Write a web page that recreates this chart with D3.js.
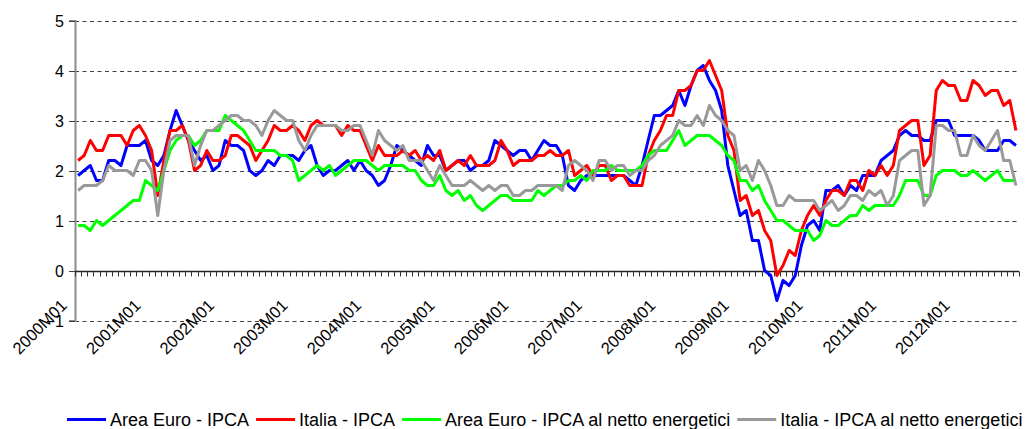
<!DOCTYPE html>
<html>
<head>
<meta charset="utf-8">
<script src="https://cdn.jsdelivr.net/npm/d3@7/dist/d3.min.js"></script>
<style>
  html, body { margin: 0; padding: 0; background: #fff; }
  svg { display: block; font-family: "Liberation Sans", Arial, sans-serif; }
</style>
</head>
<body>
<svg id="chart" width="1027" height="429"></svg>
<script>
// Tassi tendenziali mensili, 2000M01 - 2012M10
const years = [2000, 2001, 2002, 2003, 2004, 2005, 2006, 2007, 2008, 2009, 2010, 2011, 2012];

const areaEuroIpca = [
  1.9, 2.0, 2.1, 1.8, 1.8, 2.2, 2.2, 2.1, 2.5, 2.5, 2.5, 2.6,
  2.2, 2.1, 2.3, 2.8, 3.2, 2.9, 2.6, 2.4, 2.2, 2.3, 2.0, 2.1,
  2.6, 2.5, 2.5, 2.4, 2.0, 1.9, 2.0, 2.2, 2.1, 2.3, 2.3, 2.3,
  2.2, 2.4, 2.5, 2.1, 1.9, 2.0, 2.0, 2.1, 2.2, 2.0, 2.2, 2.0,
  1.9, 1.7, 1.8, 2.1, 2.5, 2.4, 2.3, 2.2, 2.1, 2.5, 2.3, 2.3,
  2.0, 2.1, 2.2, 2.2, 2.0, 2.1, 2.1, 2.2, 2.6, 2.5, 2.4, 2.3,
  2.4, 2.4, 2.2, 2.4, 2.6, 2.5, 2.5, 2.3, 1.7, 1.6, 1.8, 1.9,
  1.9, 1.9, 1.9, 1.9, 1.9, 1.9, 1.8, 1.7, 2.1, 2.6, 3.1, 3.1,
  3.2, 3.3, 3.6, 3.3, 3.7, 4.0, 4.1, 3.8, 3.6, 3.2, 2.1, 1.6,
  1.1, 1.2, 0.6, 0.6, 0.0, -0.1, -0.6, -0.2, -0.3, -0.1, 0.5, 0.9,
  1.0, 0.8, 1.6, 1.6, 1.7, 1.5, 1.7, 1.6, 1.9, 1.9, 1.9, 2.2,
  2.3, 2.4, 2.7, 2.8, 2.7, 2.7, 2.6, 2.6, 3.0, 3.0, 3.0, 2.7,
  2.7, 2.7, 2.7, 2.6, 2.4, 2.4, 2.4, 2.6, 2.6, 2.5
];

const italiaIpca = [
  2.2, 2.3, 2.6, 2.4, 2.4, 2.7, 2.7, 2.7, 2.5, 2.8, 2.9, 2.7,
  2.4, 1.5, 2.2, 2.8, 2.8, 2.9, 2.6, 2.0, 2.1, 2.4, 2.2, 2.2,
  2.3, 2.7, 2.7, 2.6, 2.5, 2.2, 2.4, 2.6, 2.9, 2.8, 2.8, 2.9,
  2.8, 2.6, 2.9, 3.0, 2.9, 2.9, 2.9, 2.7, 2.9, 2.8, 2.8, 2.5,
  2.2, 2.5, 2.3, 2.3, 2.3, 2.4, 2.3, 2.4, 2.2, 2.3, 2.2, 2.4,
  2.0, 2.1, 2.2, 2.1, 2.3, 2.1, 2.1, 2.1, 2.2, 2.6, 2.4, 2.1,
  2.2, 2.2, 2.2, 2.3, 2.3, 2.4, 2.3, 2.3, 2.4, 1.9, 2.0, 2.1,
  1.9, 2.1, 2.1, 1.8, 1.9, 1.9, 1.7, 1.7, 1.7, 2.3, 2.6, 2.8,
  3.1, 3.1, 3.6, 3.6, 3.7, 4.0, 4.0, 4.2, 3.9, 3.6, 2.7, 2.4,
  1.4, 1.5, 1.1, 1.2, 0.8, 0.6, -0.1, 0.1, 0.4, 0.3, 0.8, 1.1,
  1.3, 1.1, 1.4, 1.6, 1.6, 1.5, 1.8, 1.8, 1.6, 2.0, 1.9, 2.1,
  1.9, 2.1, 2.8, 2.9, 3.0, 3.0, 2.1, 2.3, 3.6, 3.8, 3.7, 3.7,
  3.4, 3.4, 3.8, 3.7, 3.5, 3.6, 3.6, 3.3, 3.4, 2.8
];

const areaEuroNettoEnergetici = [
  0.9, 0.9, 0.8, 1.0, 0.9, 1.0, 1.1, 1.2, 1.3, 1.4, 1.4, 1.8,
  1.7, 1.6, 2.0, 2.4, 2.6, 2.7, 2.7, 2.5, 2.6, 2.8, 2.8, 2.8,
  3.1, 3.0, 2.9, 2.8, 2.6, 2.4, 2.4, 2.4, 2.4, 2.3, 2.3, 2.2,
  1.8, 1.9, 2.0, 2.1, 2.0, 2.1, 1.9, 2.0, 2.1, 2.2, 2.2, 2.2,
  2.1, 2.0, 2.1, 2.1, 2.1, 2.1, 2.0, 2.0, 1.8, 1.7, 1.7, 1.9,
  1.6, 1.5, 1.6, 1.4, 1.5, 1.3, 1.2, 1.3, 1.4, 1.5, 1.5, 1.4,
  1.4, 1.4, 1.4, 1.6, 1.5, 1.6, 1.7, 1.7, 1.8, 1.8, 1.9, 1.8,
  2.0, 2.0, 2.0, 2.1, 2.0, 2.0, 2.0, 2.0, 2.1, 2.3, 2.4, 2.4,
  2.4, 2.6, 2.8, 2.5, 2.6, 2.7, 2.7, 2.7, 2.6, 2.5, 2.3, 2.2,
  1.8, 1.8, 1.6, 1.7, 1.4, 1.2, 1.0, 1.0, 0.9, 0.8, 0.8, 0.8,
  0.6, 0.7, 1.0, 0.9, 0.9, 1.0, 1.1, 1.1, 1.3, 1.2, 1.3, 1.3,
  1.3, 1.3, 1.5, 1.8, 1.8, 1.8, 1.5, 1.5, 1.9, 2.0, 2.0, 2.0,
  1.9, 1.9, 2.0, 1.9, 1.8, 1.9, 2.0, 1.8, 1.8, 1.8
];

const italiaNettoEnergetici = [
  1.6, 1.7, 1.7, 1.7, 1.8, 2.1, 2.0, 2.0, 2.0, 1.9, 2.2, 2.2,
  2.0, 1.1, 2.0, 2.6, 2.7, 2.7, 2.7, 2.1, 2.5, 2.8, 2.8, 2.9,
  3.0, 3.1, 3.1, 3.0, 3.0, 2.9, 2.7, 3.0, 3.2, 3.1, 3.0, 3.0,
  2.6, 2.4, 2.7, 2.9, 2.9, 2.9, 2.9, 2.8, 2.8, 2.9, 2.9, 2.6,
  2.3, 2.8, 2.6, 2.5, 2.4, 2.5, 2.2, 2.2, 2.2, 2.0, 1.8, 2.1,
  1.9, 1.7, 1.7, 1.7, 1.8, 1.7, 1.6, 1.7, 1.6, 1.7, 1.7, 1.5,
  1.5, 1.6, 1.6, 1.7, 1.7, 1.7, 1.7, 1.6, 2.1, 2.2, 2.1, 2.0,
  1.8, 2.2, 2.2, 2.0, 2.1, 2.1, 1.9, 2.0, 2.0, 2.2, 2.3, 2.5,
  2.6, 2.7, 3.0, 2.9, 2.9, 3.1, 2.9, 3.3, 3.1, 3.0, 2.8, 2.7,
  2.0, 2.1, 1.8, 2.2, 2.0, 1.7, 1.3, 1.3, 1.5, 1.4, 1.4, 1.4,
  1.4, 1.2, 1.3, 1.4, 1.2, 1.3, 1.5, 1.5, 1.4, 1.6, 1.5, 1.6,
  1.3, 1.5, 2.2, 2.3, 2.4, 2.4, 1.3, 1.5, 2.9, 2.9, 2.8, 2.8,
  2.3, 2.3, 2.7, 2.5, 2.4, 2.6, 2.8, 2.2, 2.2, 1.7
];

const seriesNames = [
  'Area Euro - IPCA',
  'Italia - IPCA',
  'Area Euro - IPCA al netto energetici',
  'Italia - IPCA al netto energetici'
];
const yTicks = [-1, 0, 1, 2, 3, 4, 5];
const yearTickLabels = years.map(y => `${y}M01`);

// categorie mensili (2000M01 ...), una per osservazione
const months = [];
years.forEach(y => {
  for (let m = 1; m <= 12; m++) {
    months.push(`${y}M${m < 10 ? '0' + m : m}`);
  }
});
const categories = months.slice(0, areaEuroIpca.length);

const seriesValues = [areaEuroIpca, italiaIpca, areaEuroNettoEnergetici, italiaNettoEnergetici];
const colors = ['#0000ff', '#ff0000', '#00ff00', '#999999'];

const plot = { left: 75, right: 1019, top: 20.5, bottom: 320.5 };

const svg = d3.select('#chart');

const x = d3.scaleBand()
  .domain(categories)
  .range([plot.left, plot.right])
  .padding(0);
const y = d3.scaleLinear()
  .domain([-1, 5])
  .range([plot.bottom, plot.top]);

const cx = d => x(d) + x.bandwidth() / 2;

// griglia tratteggiata (tutti i valori tranne lo zero, che e' l'asse)
const gGrid = svg.append('g');
gGrid.selectAll('line')
  .data(yTicks.filter(v => v !== 0))
  .enter()
  .append('line')
  .attr('x1', plot.left)
  .attr('x2', plot.right)
  .attr('y1', d => Math.round(y(d)) + 0.5)
  .attr('y2', d => Math.round(y(d)) + 0.5)
  .attr('stroke', '#404040')
  .attr('stroke-width', 1)
  .attr('stroke-dasharray', '4,3.5');

// asse Y
const yAxis = d3.axisLeft(y).tickValues(yTicks).tickSize(6).tickPadding(5).tickFormat(d3.format('d'));
const gY = svg.append('g')
  .attr('transform', `translate(${plot.left},0)`)
  .call(yAxis);
gY.select('.domain').attr('stroke', '#8c8c8c').attr('stroke-width', 2);
gY.selectAll('.tick line').attr('stroke', '#404040');
gY.selectAll('.tick text')
  .attr('font-size', 16)
  .attr('font-family', '"Liberation Sans", Arial, sans-serif')
  .attr('fill', '#000');
gY.selectAll('.tick').attr('transform', d => `translate(0,${Math.round(y(d)) + 0.5})`);

// asse X sullo zero, con tacche tra le categorie
const y0 = Math.round(y(0)) + 0.5;
const gX = svg.append('g');
gX.append('line')
  .attr('x1', plot.left)
  .attr('x2', plot.right)
  .attr('y1', y0)
  .attr('y2', y0)
  .attr('stroke', '#222')
  .attr('stroke-width', 1.3);
const boundaries = categories.map(c => x(c)).concat([plot.right]);
gX.selectAll('line.tick')
  .data(boundaries)
  .enter()
  .append('line')
  .attr('class', 'tick')
  .attr('x1', d => Math.round(d) + 0.5)
  .attr('x2', d => Math.round(d) + 0.5)
  .attr('y1', y0)
  .attr('y2', y0 + 5)
  .attr('stroke', '#333')
  .attr('stroke-width', 1);

// etichette annuali ruotate di 45 gradi
gX.selectAll('text')
  .data(yearTickLabels)
  .enter()
  .append('text')
  .attr('transform', d => `translate(${cx(d) - 10},${y0 + 35}) rotate(-45)`)
  .attr('text-anchor', 'end')
  .attr('font-size', 16.5)
  .attr('fill', '#000')
  .text(d => d);

// serie
const line = d3.line()
  .x((d, i) => cx(categories[i]))
  .y(d => y(d));

const gLines = svg.append('g');
gLines.selectAll('path')
  .data(seriesValues)
  .enter()
  .append('path')
  .attr('fill', 'none')
  .attr('stroke', (d, i) => colors[i])
  .attr('stroke-width', 3)
  .attr('stroke-linejoin', 'round')
  .attr('d', d => line(d));

// legenda
const legendY = 419.5;
const gLegend = svg.append('g').attr('font-size', 18);
let lx = 67;
seriesNames.forEach((name, i) => {
  const item = gLegend.append('g');
  item.append('line')
    .attr('x1', lx)
    .attr('x2', lx + 39)
    .attr('y1', legendY)
    .attr('y2', legendY)
    .attr('stroke', colors[i])
    .attr('stroke-width', 3);
  const t = item.append('text')
    .attr('x', lx + 43)
    .attr('y', legendY + 6.5)
    .attr('fill', '#000')
    .text(name);
  lx += 43 + t.node().getComputedTextLength() + 7;
});
</script>
</body>
</html>
